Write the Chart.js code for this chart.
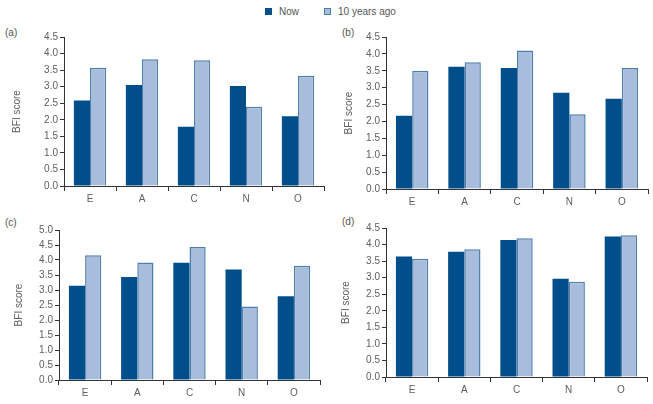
<!DOCTYPE html>
<html>
<head>
<meta charset="utf-8">
<script src="https://cdn.jsdelivr.net/npm/chart.js@4.4.4/dist/chart.umd.min.js"></script>
<style>
  body { margin: 0; background: #fff; font-family: 'Liberation Sans', Arial, sans-serif; }
  #wrap { position: relative; width: 653px; height: 404px; overflow: hidden; }
  canvas { position: absolute; }
  .tag { position: absolute; font-size: 10px; color: #555; }
  #legend { position: absolute; top: 6px; left: 265px; font-size: 10px; color: #555; display: flex; }
  #legend span.item { display: inline-flex; align-items: center; margin-right: 25px; }
  #legend i { display: inline-block; width: 7px; height: 7px; margin-right: 7px; box-sizing: border-box; }
</style>
</head>
<body>
<div id="wrap">
  <div id="legend">
    <span class="item"><i style="background:#004f8b"></i>Now</span>
    <span class="item"><i style="background:#a8bddb;border:1px solid #4e7fae"></i>10 years ago</span>
  </div>
  <div class="tag" style="left:5px;top:27px">(a)</div>
  <div class="tag" style="left:342px;top:27px">(b)</div>
  <div class="tag" style="left:5px;top:217px">(c)</div>
  <div class="tag" style="left:342px;top:216px">(d)</div>
  <canvas id="ca"></canvas>
  <canvas id="cb"></canvas>
  <canvas id="cc"></canvas>
  <canvas id="cd"></canvas>
</div>
<script>
const traits = ['E', 'A', 'C', 'N', 'O'];

const nowA = [2.58, 3.05, 1.79, 3.02, 2.11];
const agoA = [3.57, 3.83, 3.80, 2.39, 3.33];

const nowB = [2.17, 3.62, 3.58, 2.85, 2.67];
const agoB = [3.50, 3.75, 4.10, 2.21, 3.58];

const nowC = [3.14, 3.43, 3.91, 3.68, 2.79];
const agoC = [4.16, 3.92, 4.43, 2.45, 3.81];

const nowD = [3.64, 3.78, 4.14, 2.97, 4.24];
const agoD = [3.57, 3.86, 4.19, 2.88, 4.28];

const DARK = '#004f8b', LIGHT = '#a8bddb', EDGE = '#4e7fae';
const AXIS = '#333', TEXT = '#606060';

// box: canvas position in page; area: wanted chart area in page coords
function panel(id, box, area, now, ago, yMax, titleX) {
  const c = document.getElementById(id);
  c.style.left = box.x + 'px';
  c.style.top = box.y + 'px';
  c.style.width = box.w + 'px';
  c.style.height = box.h + 'px';
  c.width = box.w; c.height = box.h;
  const padL = Math.max(0, titleX - box.x - 10);
  const padT = area.t - box.y;
  const padR = box.x + box.w - area.r;
  const yW = area.l - box.x - padL;
  const xH = 22;
  const padB = box.y + box.h - area.b - xH;
  return new Chart(c.getContext('2d'), {
    type: 'bar',
    data: {
      labels: traits,
      datasets: [
        { label: 'Now', data: now, backgroundColor: DARK, borderWidth: 0 },
        { label: '10 years ago', data: ago, backgroundColor: LIGHT, borderColor: EDGE, borderWidth: 1.5 }
      ]
    },
    options: {
      responsive: false,
      animation: false,
      devicePixelRatio: 1,
      layout: { padding: { left: padL, top: padT, right: padR, bottom: padB } },
      datasets: { bar: { categoryPercentage: 0.62, barPercentage: 1.0 } },
      plugins: { legend: { display: false }, tooltip: { enabled: false } },
      scales: {
        x: {
          grid: { offset: true, drawOnChartArea: false, color: AXIS, tickLength: 5 },
          border: { color: AXIS, width: 1 },
          ticks: { color: TEXT, font: { family: 'Liberation Sans', size: 10 }, padding: 2 },
          afterFit: s => { s.height = xH; }
        },
        y: {
          min: 0, max: yMax,
          grid: { drawOnChartArea: false, color: AXIS, tickLength: 4 },
          border: { color: AXIS, width: 1 },
          ticks: { stepSize: 0.5, color: TEXT, font: { family: 'Liberation Sans', size: 10 }, padding: 2,
                   callback: v => v.toFixed(1) },
          title: { display: true, text: 'BFI score', color: TEXT, font: { family: 'Liberation Sans', size: 10 }, padding: 2 },
          afterFit: s => { s.width = yW; }
        }
      }
    }
  });
}

panel('ca', { x: 0, y: 20, w: 330, h: 190 }, { l: 64, t: 37, r: 324, b: 186 }, nowA, agoA, 4.5, 19);
panel('cb', { x: 323, y: 20, w: 330, h: 193 }, { l: 386, t: 37, r: 648, b: 189 }, nowB, agoB, 4.5, 351);
panel('cc', { x: 0, y: 205, w: 326, h: 199 }, { l: 59, t: 230, r: 320, b: 380 }, nowC, agoC, 5.0, 21);
panel('cd', { x: 323, y: 205, w: 330, h: 199 }, { l: 386, t: 228, r: 647, b: 377 }, nowD, agoD, 4.5, 348);
</script>
</body>
</html>
